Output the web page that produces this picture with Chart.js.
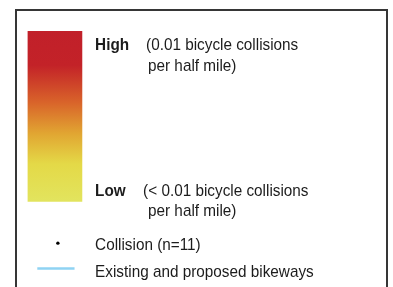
<!DOCTYPE html>
<html>
<head>
<meta charset="utf-8">
<script src="https://cdn.jsdelivr.net/npm/chart.js@4/dist/chart.umd.min.js"></script>
<style>
  html, body { margin: 0; padding: 0; background: #fff; }
  #wrap { width: 393px; height: 287px; position: relative; }
</style>
</head>
<body>
<div id="wrap"><canvas id="mycanvas"></canvas></div>
<script>
// legend content
var rampLabels = ["High", "Low"];
var rampNotes = [
  ["(0.01 bicycle collisions", "per half mile)"],
  ["(< 0.01 bicycle collisions", "per half mile)"]
];
var rampColors = ["#c1202a", "#c32228", "#d9642a", "#e1a532", "#e4d947", "#e2e45e"];
var rampStops = [0, 0.2, 0.42, 0.6, 0.78, 1];
var symbolLabels = ["Collision (n=11)", "Existing and proposed bikeways"];

// layout frame (legend units == px of the 393x287 box)
var rampTop = 28, rampBottom = 203, rampX = 52, rampWidth = 54;
var rowHigh = 47, rowLow = 198, rowCollision = 253, rowBikeway = 281;
var textX = 93;

var frame = {
  id: 'frame',
  beforeDraw: function(chart) {
    var ctx = chart.ctx;
    ctx.save();
    ctx.fillStyle = '#fff';
    ctx.fillRect(0, 0, chart.width, chart.height);
    ctx.strokeStyle = '#363636';
    ctx.lineWidth = 2;
    ctx.strokeRect(16, 10, 371, 320);
    ctx.restore();
  }
};

var legendText = {
  id: 'legendText',
  afterDatasetsDraw: function(chart) {
    var ctx = chart.ctx;
    var x = chart.scales.x, y = chart.scales.y;
    function put(str, px, py, bold) {
      ctx.save();
      ctx.font = (bold ? 'bold ' : '') + '17px "Liberation Sans", Arial, sans-serif';
      ctx.fillStyle = '#1c1c1c';
      ctx.textBaseline = 'alphabetic';
      ctx.translate(x.getPixelForValue(px), y.getPixelForValue(py));
      ctx.scale(0.9, 1);
      ctx.fillText(str, 0, 0);
      ctx.restore();
    }
    put(rampLabels[0], textX, rowHigh, true);
    put(rampNotes[0][0], 145, rowHigh, false);
    put(rampNotes[0][1], 147, rowHigh + 22, false);
    put(rampLabels[1], textX, rowLow, true);
    put(rampNotes[1][0], 142, rowLow, false);
    put(rampNotes[1][1], 147, rowLow + 20, false);
    put(symbolLabels[0], textX, rowCollision, false);
    put(symbolLabels[1], textX, rowBikeway, false);
  }
};

var ctx = document.getElementById('mycanvas');

var LegendChart = new Chart(ctx, {
  type: 'scatter',
  data: {
    datasets: [
      {
        type: 'bar',
        label: 'ramp',
        data: [{ x: rampX, y: [rampTop, rampBottom] }],
        barThickness: rampWidth,
        borderWidth: 0,
        backgroundColor: function(c) {
          var chart = c.chart;
          if (!chart.chartArea) return rampColors[0];
          var y = chart.scales.y;
          var g = chart.ctx.createLinearGradient(0, y.getPixelForValue(rampTop), 0, y.getPixelForValue(rampBottom));
          for (var i = 0; i < rampColors.length; i++) g.addColorStop(rampStops[i], rampColors[i]);
          return g;
        }
      },
      {
        type: 'scatter',
        label: symbolLabels[0],
        data: [{ x: 55, y: rowCollision - 7 }],
        pointRadius: 1.7,
        backgroundColor: '#000',
        borderWidth: 0
      },
      {
        type: 'line',
        label: symbolLabels[1],
        data: [{ x: 34, y: rowBikeway - 9 }, { x: 72, y: rowBikeway - 9 }],
        borderColor: '#8fd3f3',
        borderWidth: 2.5,
        pointRadius: 0,
        fill: false
      }
    ]
  },
  options: {
    responsive: true,
    maintainAspectRatio: false,
    animation: false,
    layout: { padding: 0 },
    plugins: { legend: { display: false }, tooltip: { enabled: false } },
    scales: {
      x: { type: 'linear', min: 0, max: 393, offset: false, display: false },
      y: { type: 'linear', min: 0, max: 287, reverse: true, offset: false, display: false }
    }
  },
  plugins: [frame, legendText]
});
</script>
</body>
</html>
